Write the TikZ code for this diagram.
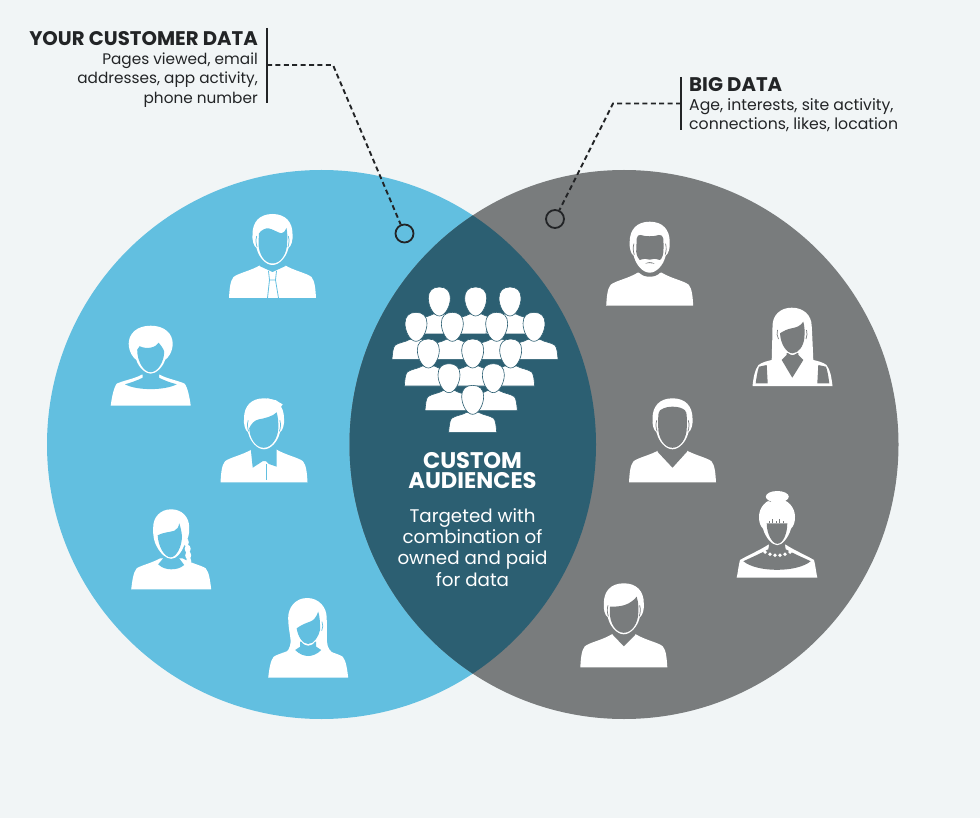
\documentclass[tikz,border=0pt]{standalone}
\usepackage{fontspec}
\setmainfont{Poppins}
\definecolor{cbg}{HTML}{F1F5F6}
\definecolor{cblue}{HTML}{62BFE0}
\definecolor{cgrey}{HTML}{797C7D}
\definecolor{cdeep}{HTML}{2C5F72}
\definecolor{cink}{HTML}{222426}
\colorlet{pb}{cblue}
\newcommand\MaleHead{%
  \fill[white] (0,-84) .. controls (-13,-84) and (-20,-76) .. (-20,-64) .. controls (-20.5,-58) and (-19,-52) .. (-16,-50)
    -- (-15.4,-48) .. controls (-13.5,-41) and (-7,-33) .. (0,-33) .. controls (7,-33) and (13.5,-41) .. (15.4,-48) -- (16,-50)
    .. controls (19,-52) and (20.5,-58) .. (20,-64) .. controls (20,-76) and (13,-84) .. (0,-84) -- cycle;
  \draw[pb,line width=.7] (-15.8,-62) .. controls (-17,-58) and (-16.5,-54) .. (-15.4,-51);
  \draw[pb,line width=.7] (15.8,-62) .. controls (17,-58) and (16.5,-54) .. (15.4,-51);}
\newcommand\BodyM{%
  \fill[white] (-43.5,0) .. controls (-43,-8) and (-42.5,-17) .. (-39,-21) .. controls (-34,-25) and (-22,-27) .. (-12,-33)
    -- (12,-33) .. controls (22,-27) and (34,-25) .. (39,-21) .. controls (42.5,-17) and (43,-8) .. (43.5,0) -- cycle;}
\newcommand\BodyW{%
  \fill[white] (-40,0) .. controls (-39,-8) and (-38,-17) .. (-34.5,-21) .. controls (-30,-24) and (-20,-26) .. (-11,-31)
    -- (11,-31) .. controls (20,-26) and (30,-24) .. (34.5,-21) .. controls (38,-17) and (39,-8) .. (40,0) -- cycle;}
\tikzset{
  x=1pt,y=-1pt,
  callout/.style={draw=cink,line width=1.9pt,dash pattern=on 5pt off 3.4pt},
  barline/.style={draw=cink,line width=2pt},
  ring/.style={circle,draw=cink,line width=1.8pt,minimum size=18pt,inner sep=0pt},
  headtxt/.style={font=\fontsize{19.7}{22}\selectfont\bfseries,text=cink,inner sep=0pt},
  bodytxt/.style={font=\fontsize{15.3}{19.1}\selectfont,text=cink,inner sep=0pt},
  bodywide/.style={font=\fontsize{15.7}{19.3}\selectfont,text=cink,inner sep=0pt},
  midhead/.style={font=\fontsize{22.6}{20.6}\selectfont\bfseries,text=white,inner sep=0pt,align=center},
  midbody/.style={font=\fontsize{18.3}{21.3}\selectfont,text=white,inner sep=0pt,align=center},
  crowdp/.pic={
    \filldraw[white,draw=cdeep,line width=.6pt] (-24,0) .. controls (-23.5,-6) and (-23,-12) .. (-21,-14) .. controls (-17,-17) and (-11,-17) .. (-6,-20)
      -- (6,-20) .. controls (11,-17) and (17,-17) .. (21,-14) .. controls (23,-12) and (23.5,-6) .. (24,0) -- cycle;
    \filldraw[white,draw=cdeep,line width=.6pt] (0,-47) .. controls (-7,-47) and (-11,-43) .. (-11,-36) .. controls (-11,-28) and (-6,-18) .. (0,-18)
      .. controls (6,-18) and (11,-28) .. (11,-36) .. controls (11,-43) and (7,-47) .. (0,-47) -- cycle;
  },
  mantie/.pic={
    \BodyM
    \fill[pb] (-13,-38) -- (-13,-32) -- (0,-26) -- (13,-32) -- (13,-38) -- cycle;
    \MaleHead
    \fill[pb] (-13.5,-64.7) .. controls (-11,-68) and (-7,-70) .. (-4,-69.7) .. controls (0,-69) and (6,-65) .. (9,-64.7) .. controls (11,-65) and (13,-67) .. (14,-70)
      .. controls (15,-65) and (15,-60) .. (14.6,-55) .. controls (14.5,-44) and (8,-34.5) .. (0,-34.5) .. controls (-8,-34.5) and (-14,-44) .. (-14,-55) -- cycle;
    \draw[pb,line width=.8] (-4,-27) -- (-3,-18) -- (3,-18) -- (4,-27) (-3,-18) -- (-5,0) (3,-18) -- (6,0);
  },
  womanshort/.pic={
    \fill[white] (-40,0) .. controls (-39,-8) and (-37,-18) .. (-34,-22) .. controls (-28,-25) and (-16,-27) .. (-9,-31) -- (9,-31) .. controls (16,-27) and (28,-25) .. (34,-22) .. controls (37,-18) and (39,-8) .. (40,0) -- cycle;
    \fill[pb] (-8,-36) -- (-8,-28) .. controls (-14,-25) and (-20,-23) .. (-25.7,-21.4) .. controls (-14,-15) and (14,-15) .. (26,-21.4) .. controls (20,-23) and (14,-25) .. (8.3,-28) -- (8.3,-36) -- cycle;
    \fill[white] (0,-80) .. controls (-14,-80) and (-22,-72) .. (-22,-62) .. controls (-22,-54) and (-17,-47) .. (-14.5,-46) .. controls (-12,-38) and (-5,-32) .. (0,-32)
      .. controls (5,-32) and (12,-38) .. (14.5,-46) .. controls (17,-47) and (22,-54) .. (22,-62) .. controls (22,-72) and (14,-80) .. (0,-80) -- cycle;
    \fill[pb] (-13.5,-56) .. controls (-13.5,-44) and (-7,-33.5) .. (0,-33.5) .. controls (7,-33.5) and (13.5,-44) .. (13.5,-54) .. controls (12.5,-58) and (10,-60) .. (8,-63) .. controls (5,-58) and (-4,-56) .. (-11,-59.5) -- cycle;
  },
  manspiky/.pic={
    \BodyM
    \fill[pb] (-13.3,-34) -- (-11.3,-14.6) -- (-1,-21.3) -- (1.7,-21.3) -- (5,-18.3) -- (12.7,-15.6) -- (12.7,-34) -- cycle;
    \draw[pb,line width=.7] (2,-18) -- (2,-2);
    \MaleHead
    \fill[white] (3,-84) -- (12,-82) -- (15,-80) -- (18.7,-78) -- (16,-74) -- (18,-72) -- (12,-70) -- cycle;
    \fill[pb] (-14.8,-54) .. controls (-13,-58) and (-10,-62) .. (-5,-63) .. controls (1,-64) and (9,-66) .. (12.7,-70) .. controls (14,-65) and (14.5,-60) .. (14.3,-54)
      .. controls (14,-44) and (7.5,-34.5) .. (-0.3,-34.5) .. controls (-8,-34.5) and (-14.5,-44) .. (-14.8,-54) -- cycle;
  },
  womanbraid/.pic={
    \BodyW
    \fill[pb] (-11,-36) -- (-8,-31) -- (-13,-25) .. controls (-9,-21) and (-4,-20) .. (0,-20) .. controls (5,-20) and (9,-21) .. (13,-24.3) -- (8,-31) -- (8,-36) -- cycle;
    \fill[white] (0,-80) .. controls (-11,-80) and (-18,-72) .. (-18,-62) .. controls (-18.5,-54) and (-17,-47) .. (-14.5,-43) .. controls (-11,-36) and (-5,-30.5) .. (0,-30.5)
      .. controls (5,-30.5) and (10,-36) .. (13,-44) .. controls (17,-50) and (18.5,-56) .. (18,-62) .. controls (18,-72) and (11,-80) .. (0,-80) -- cycle;
    \fill[white] (15,-47) ellipse[x radius=2.6pt,y radius=4pt] (16.5,-40.5) ellipse[x radius=3pt,y radius=4pt] (17,-34) ellipse[x radius=3pt,y radius=4pt] (17.5,-28) ellipse[x radius=2.6pt,y radius=4pt];
    \fill[pb] (-13.5,-54) .. controls (-13,-43) and (-7,-32) .. (-0.5,-32) .. controls (5,-32) and (10.5,-42) .. (10.8,-52.6) .. controls (10.5,-57) and (9.5,-62) .. (8,-66) .. controls (7.5,-62) and (6,-60) .. (3,-58.5) .. controls (-2,-57) and (-8,-57) .. (-13.5,-54) -- cycle;
  },
  womanlong/.pic={
    \BodyW
    \fill[white] (-1,-79.7) .. controls (-13,-79.7) and (-20,-70) .. (-20,-60) .. controls (-20,-50) and (-18,-44) .. (-17.5,-36) .. controls (-18,-30) and (-20,-26) .. (-26,-22)
      -- (28,-22) .. controls (22,-26) and (19,-30) .. (18.8,-36) .. controls (18.5,-44) and (18.7,-52) .. (18.5,-60) .. controls (18.5,-70) and (11,-79.7) .. (-1,-79.7) -- cycle;
    \fill[pb] (-13,-27.7) .. controls (-9,-23.5) and (-4,-21.7) .. (0,-21.7) .. controls (4,-21.7) and (9,-23.5) .. (13,-27.7) -- (8,-31) -- (8,-36) -- (-8,-36) -- (-8,-31) -- cycle;
    \fill[white] (-11,-50) .. controls (-10,-38) and (-5,-32) .. (0,-32) .. controls (5,-32) and (10,-38) .. (12,-50) -- cycle;
    \fill[pb] (-11.5,-49.4) .. controls (-10.5,-42) and (-6,-33.7) .. (0,-33.7) .. controls (6,-33.7) and (10.8,-42) .. (11.8,-47.7) .. controls (12,-55) and (11.5,-62) .. (10,-66) .. controls (8,-60) and (5,-57) .. (1.8,-56) .. controls (-3,-54.5) and (-8,-52) .. (-11.5,-49.4) -- cycle;
    \draw[pb,line width=.7] (13.8,-56) .. controls (15,-53) and (14.8,-50) .. (13.5,-47);
  },
  manbeard/.pic={
    \BodyM
    \fill[pb] (-12,-38) -- (-11.4,-34) .. controls (-8,-30) and (-4,-29) .. (0,-29) .. controls (4,-29) and (8,-30) .. (11.4,-34) -- (12,-38) -- cycle;
    \MaleHead
    \fill[pb] (-13,-67) .. controls (-12,-70) and (-11,-71.5) .. (-9,-70.7) .. controls (-5,-69) and (5,-69) .. (9,-70.7) .. controls (11,-71.5) and (12.5,-70) .. (13.6,-67)
      .. controls (14,-60) and (14,-54) .. (13,-50) .. controls (12,-47) and (11,-46) .. (10,-45.7) .. controls (6,-47) and (3,-47.5) .. (0,-46) .. controls (-3,-47.5) and (-6,-47) .. (-10,-45.7) .. controls (-11.5,-47) and (-13,-50) .. (-13.5,-54) -- cycle;
    \fill[pb] (-4.5,-42) .. controls (-2,-44) and (2,-44) .. (5,-42) .. controls (2,-42.8) and (-2,-42.8) .. (-4.5,-42) -- cycle;
  },
  womanstraight/.pic={
    \fill[white] (-40,0) .. controls (-39,-8) and (-38,-16) .. (-34,-21) .. controls (-30,-24) and (-25,-25) .. (-20.8,-26) .. controls (-20.5,-40) and (-20,-50) .. (-20,-60) .. controls (-20,-71) and (-12,-78.3) .. (-0.8,-78.3)
      .. controls (11,-78.3) and (19,-71) .. (19.2,-60) .. controls (19.8,-50) and (20.2,-40) .. (20.8,-26) .. controls (25,-25) and (30,-24) .. (34,-21) .. controls (38,-16) and (39,-8) .. (40,0) -- cycle;
    \fill[pb] (-5.8,-33) -- (-5.8,-31) -- (-10.8,-26) -- (-0.2,-8.3) -- (10.8,-26) -- (5.8,-31) -- (5.8,-33) -- cycle;
    \fill[white] (-12.5,-50) .. controls (-11,-40) and (-5,-31) .. (0,-31) .. controls (5,-31) and (11,-40) .. (12.5,-50) -- cycle;
    \fill[pb] (-12.5,-52.7) .. controls (-12,-42) and (-6,-32.7) .. (0,-32.7) .. controls (6,-32.7) and (11,-40) .. (11.8,-47.7) .. controls (12.5,-54) and (12,-60) .. (10.8,-64.3) .. controls (8,-60) and (4,-58.5) .. (-0.8,-57.7) .. controls (-5,-57) and (-9,-55) .. (-12.5,-52.7) -- cycle;
    \fill[pb] (-36.8,-2.7) .. controls (-36,-9) and (-35,-15) .. (-33.5,-19.3) -- (-25.8,-21) -- (-24.8,-2.7) -- cycle;
    \fill[pb] (36.8,-2.7) .. controls (36,-9) and (35,-15) .. (33.5,-19.3) -- (25.8,-21) -- (24.8,-2.7) -- cycle;
    \draw[pb,line width=.7] (-15,-56) .. controls (-16,-53) and (-15.5,-50) .. (-14,-47) (14,-56) .. controls (15,-53) and (14.5,-50) .. (13.5,-47);
  },
  manvee/.pic={
    \BodyM
    \fill[pb] (-14.5,-38) -- (-15,-30.6) -- (0,-14.6) -- (14.5,-30.6) -- (14.5,-38) -- cycle;
    \MaleHead
    \fill[pb] (-14.3,-64) .. controls (-14.3,-69) and (-13.5,-71) .. (-12.5,-72) .. controls (-8,-75) and (-4,-75.6) .. (0,-75.6) .. controls (4,-75.6) and (9,-75) .. (12.5,-72) .. controls (13.5,-71) and (14.3,-69) .. (14.3,-64)
      -- (14.3,-55) .. controls (14.3,-44) and (8,-34.5) .. (0,-34.5) .. controls (-8,-34.5) and (-14.3,-44) .. (-14.3,-55) -- cycle;
  },
  womanbun/.pic={
    \fill[white] (-40.3,0) .. controls (-39,-6) and (-38.5,-12) .. (-37,-17.7) .. controls (-28,-23) and (-18,-27) .. (-8.7,-33) -- (8.7,-33) .. controls (18,-27) and (28,-23) .. (37,-17.7) .. controls (38.5,-12) and (39,-6) .. (40.3,0) -- cycle;
    \fill[cgrey] (-7,-38) -- (-8.7,-28.4) .. controls (-17,-24) and (-26,-20) .. (-33.7,-16.5) .. controls (-20,-5) and (20,-5) .. (33.7,-16.5) .. controls (26,-20) and (17,-24) .. (8.7,-28.4) -- (7,-38) -- cycle;
    \foreach \bx/\by in {-12/-25.6,-7/-23.5,-2/-22.5,3/-22.5,8/-23.5,13/-25.6} {\fill[white] (\bx,\by) circle[radius=1.9pt];}
    \fill[white] (0.3,-81) ellipse[x radius=11.5pt,y radius=5.7pt];
    \fill[white] (0,-79) .. controls (-11,-79) and (-18,-70) .. (-18,-61) .. controls (-18,-56) and (-17,-52) .. (-14,-49) .. controls (-11.5,-40) and (-5,-32.5) .. (0.3,-32.5)
      .. controls (5,-32.5) and (11.5,-40) .. (14,-49) .. controls (17,-52) and (18,-56) .. (18,-61) .. controls (18,-70) and (11,-79) .. (0,-79) -- cycle;
    \draw[cgrey,line width=.4] (-11.3,-78.6) .. controls (-10,-77) and (-8,-76.4) .. (-6,-76.2);
    \fill[cgrey] (-10.3,-54.4) -- (10.3,-54.4) .. controls (10.3,-44) and (6,-33.9) .. (0.3,-33.9) .. controls (-5,-33.9) and (-10.3,-44) .. (-10.3,-54.4) -- cycle;
    \foreach \sx/\sl in {-8/-57,-4.5/-59,-1/-56.5,2.5/-58.5,6/-57} {\draw[cgrey,line width=.3] (\sx,-54.4) -- (\sx,\sl);}
  },
  manlow/.pic={
    \BodyM
    \fill[pb] (-12,-38) -- (-10.5,-32) -- (0,-21) -- (11,-32) -- (12,-38) -- cycle;
    \MaleHead
    \fill[pb] (-13.8,-60.6) .. controls (-8,-60.5) and (-3,-61) .. (1,-62.3) .. controls (6,-64) and (10,-67) .. (12.9,-70.6) .. controls (14,-67) and (14.5,-64) .. (14.5,-60)
      -- (14.5,-55) .. controls (14.5,-44) and (8,-34.5) .. (0,-34.5) .. controls (-8,-34.5) and (-14,-44) .. (-14,-55) -- cycle;
  }
}
\begin{document}
\begin{tikzpicture}
\useasboundingbox (0,0) rectangle (980,818);
\fill[cbg] (0,0) rectangle (980,818);
\fill[cblue] (321.5,444.5) circle[radius=274.5pt];
\fill[cgrey] (624,444.5) circle[radius=274.5pt];
\begin{scope}
  \clip (321.5,444.5) circle[radius=274.5pt];
  \fill[cdeep] (624,444.5) circle[radius=274.5pt];
\end{scope}
% people, left
\begin{scope}
  \colorlet{pb}{cblue}
  \pic at (272.5,298) {mantie};
  \pic at (150.7,405.7) {womanshort};
  \pic at (264,482.3) {manspiky};
  \pic at (171.2,589.3) {womanbraid};
  \pic at (308.2,677.7) {womanlong};
\end{scope}
% people, right
\begin{scope}
  \colorlet{pb}{cgrey}
  \pic at (649.7,305.7) {manbeard};
  \pic at (792.5,386) {womanstraight};
  \pic at (672.5,482.3) {manvee};
  \pic at (777,577.7) {womanbun};
  \pic at (623.8,667.3) {manlow};
\end{scope}
% crowd, back to front
\foreach \cx/\cy in {178/177,287/177,390/177,108/253,217/253,350/253,462/253,145/333,278/333,392/333,207/407,340/407,278/472}
  {\pic at ({380+\cx/3},{275+\cy/3}) {crowdp};}
% labels
\node[headtxt,anchor=base east] (t1) at (258,46) {YOUR CUSTOMER DATA};
\node[bodytxt,anchor=north east,align=right] (t2) at (258,53) {Pages viewed, email\\addresses, app activity,\\phone number};
\node[headtxt,anchor=base west] (t3) at (689,92) {BIG DATA};
\node[bodywide,anchor=north west,align=left] (t4) at (689,98.5) {Age, interests, site activity,\\connections, likes, location};
\node[midhead,anchor=north] (t5) at (472.5,452) {CUSTOM\\AUDIENCES};
\node[midbody,anchor=north] (t6) at (472.5,508) {Targeted with\\combination of\\owned and paid\\for data};
% callouts
\node[ring] (c1) at (404.5,233.5) {};
\node[ring] (c2) at (555,219) {};
\coordinate (b1top) at (267,28);
\coordinate (b1bot) at (267,103);
\coordinate (b1mid) at (267,65);
\coordinate (e1) at (333,65);
\coordinate (b2top) at (681,77);
\coordinate (b2bot) at (681,130.5);
\coordinate (b2mid) at (681,103.5);
\coordinate (e2) at (613,103.5);
\draw[barline] (b1top) -- (b1bot);
\draw[barline] (b2top) -- (b2bot);
\draw[callout] (b1mid) -- (e1) -- (c1);
\draw[callout] (b2mid) -- (e2) -- (c2);
\end{tikzpicture}
\end{document}
